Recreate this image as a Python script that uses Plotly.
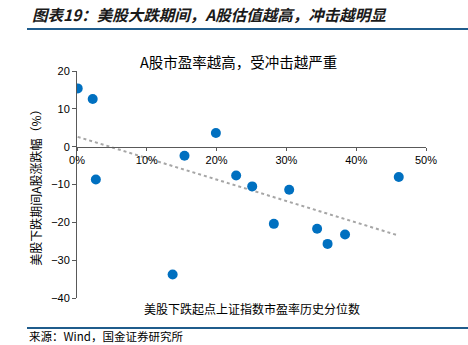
import numpy as np
import plotly.graph_objects as go

# Data: x = historical percentile of SSE P/E at start of US decline (%), y = A-share change (%)
pe_percentile = [0.1, 2.25, 2.7, 15.4, 19.9, 22.8, 25.1, 30.4, 46.1, 13.7, 28.2, 34.4, 35.9, 38.4]
a_share_change = [15.4, 12.6, -8.7, -2.4, 3.6, -7.6, -10.5, -11.4, -8.0, -33.8, -20.4, -21.7, -25.7, -23.2]
x_ticks = [0, 10, 20, 30, 40, 50]
x_tick_labels = ["0%", "10%", "20%", "30%", "40%", "50%"]
y_ticks = [-40, -30, -20, -10, 0, 10, 20]

xa = np.array(pe_percentile)
ya = np.array(a_share_change)
slope, intercept = np.polyfit(xa, ya, 1)
trend_x = [xa.min(), xa.max()]
trend_y = [slope * v + intercept for v in trend_x]

fig = go.Figure()
fig.add_trace(go.Scatter(x=trend_x, y=trend_y, mode="lines",
                         line=dict(color="#A6A6A6", width=2, dash="dot"),
                         hoverinfo="skip", showlegend=False))
fig.add_trace(go.Scatter(x=pe_percentile, y=a_share_change, mode="markers",
                         marker=dict(color="#0070C0", size=10),
                         showlegend=False))

cjk = "Noto Sans CJK SC"
fig.update_layout(
    width=468, height=345,
    margin=dict(l=77, r=42, t=71, b=47),
    paper_bgcolor="white", plot_bgcolor="white",
    font=dict(family="Liberation Sans, Arial", size=11, color="#000000"),
    xaxis=dict(range=[0, 50], tickvals=x_ticks, ticktext=x_tick_labels,
               showgrid=False, zeroline=False, showline=True,
               linecolor="#595959", linewidth=1, ticks="outside", ticklen=3,
               tickcolor="#595959", anchor="free", position=2/3,
               tickfont=dict(size=11, color="#000000")),
    yaxis=dict(range=[-40, 20], tickvals=y_ticks, domain=[0, 1],
               showgrid=False, zeroline=False, showline=True,
               linecolor="#595959", linewidth=1, ticks="outside", ticklen=4,
               tickcolor="#595959", tickfont=dict(size=11, color="#000000"),
               title=dict(text="美股下跌期间A股涨跌幅（%）",
                          font=dict(family=cjk, size=12, color="#000000"),
                          standoff=6)),
    shapes=[
        dict(type="line", xref="paper", yref="paper",
             x0=-50/349, x1=391/349, y0=(345-29-47)/227, y1=(345-29-47)/227,
             line=dict(color="#1F5C8C", width=2)),
        dict(type="line", xref="paper", yref="paper",
             x0=-50/349, x1=391/349, y0=(345-328-47)/227, y1=(345-328-47)/227,
             line=dict(color="#1F5C8C", width=2)),
    ],
    annotations=[
        dict(text="<b><i>图表19：美股大跌期间，A股估值越高，冲击越明显</i></b>",
             xref="paper", yref="paper", x=-47/349, y=(345-14-47)/227,
             xanchor="left", yanchor="middle", showarrow=False,
             font=dict(family=cjk, size=15.5, color="#1a1a1a")),
        dict(text="A股市盈率越高，受冲击越严重",
             xref="paper", yref="paper", x=(238-77)/349, y=(345-62-47)/227,
             xanchor="center", yanchor="middle", showarrow=False,
             font=dict(family=cjk, size=14.5, color="#000000")),
        dict(text="美股下跌起点上证指数市盈率历史分位数",
             xref="paper", yref="paper", x=(252-77)/349, y=(345-308-47)/227,
             xanchor="center", yanchor="middle", showarrow=False,
             font=dict(family=cjk, size=12, color="#000000")),
        dict(text="来源：Wind，国金证券研究所",
             xref="paper", yref="paper", x=-50/349, y=(345-336-47)/227,
             xanchor="left", yanchor="middle", showarrow=False,
             font=dict(family=cjk, size=11.5, color="#000000")),
    ],
)

fig.write_html("out.html")
